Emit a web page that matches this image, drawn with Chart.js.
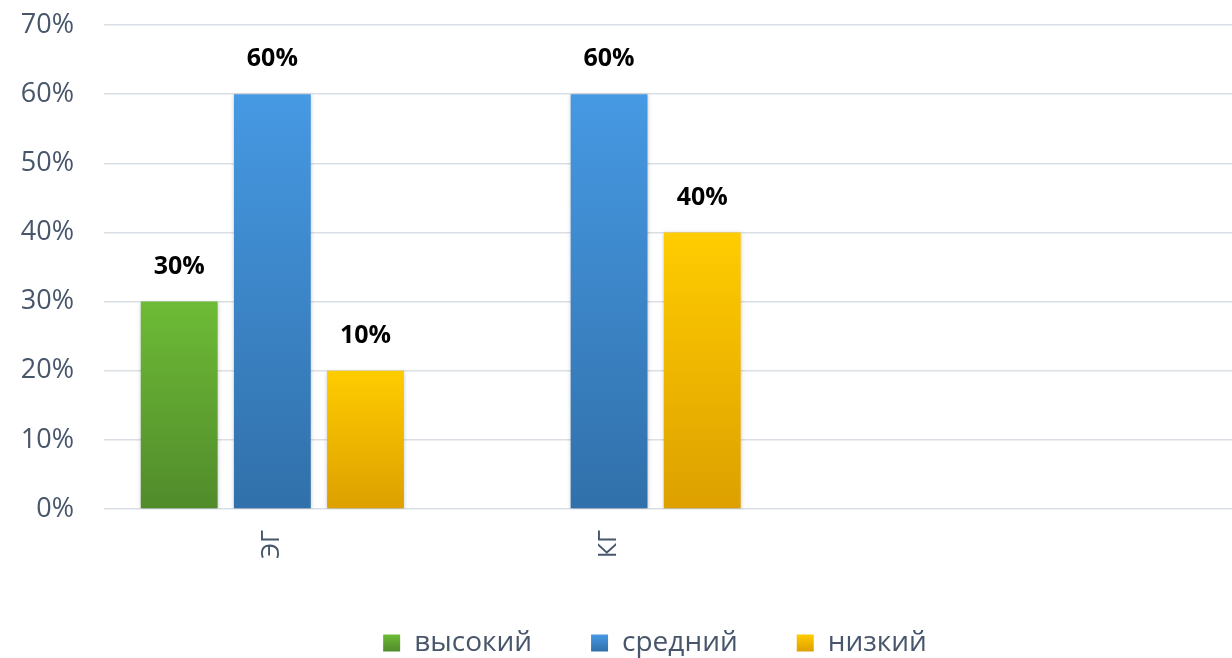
<!DOCTYPE html>
<html>
<head>
<meta charset="utf-8">
<script src="https://cdn.jsdelivr.net/npm/chart.js"></script>
<style>
  html, body { margin: 0; padding: 0; background: #fff; overflow: hidden; }
  #wrap { width: 1232px; height: 658px; position: relative; }
</style>
</head>
<body>
<div id="wrap"><canvas id="chart"></canvas></div>
<script>
// data
const groups = ["ЭГ", "КГ"];
const seriesNames = ["высокий", "средний", "низкий"];
const highValues = [30, null];
const midValues = [60, 60];
const lowValues = [20, 40];
// printed labels (the first yellow bar is labelled 10% although it reaches 20%)
const highLabels = ["30%", ""];
const midLabels = ["60%", "60%"];
const lowLabels = ["10%", "40%"];
const yTicks = [0, 10, 20, 30, 40, 50, 60, 70];

const colorStops = [
    ["#6dbb36", "#518b2b"],
    ["#4699e3", "#3170aa"],
    ["#ffcc00", "#dda000"]
];

const textColor = "#48566b";
const fontName = "'Open Sans', 'DejaVu Sans', sans-serif";
const legendFont = 28;
const legendPad = 59;
const legendBox = 17;
const legendShift = 39;

// vertical gradient for every bar, light at the top
function barFill(stops) {
    return (ctx) => {
        const chart = ctx.chart;
        if (ctx.type !== "data" || !chart.chartArea || ctx.parsed == null) return stops[0];
        const y = chart.scales.y;
        const y0 = y.getPixelForValue(ctx.parsed.y);
        const y1 = y.getPixelForValue(0);
        if (!isFinite(y0) || !isFinite(y1) || y0 === y1) return stops[0];
        const g = chart.ctx.createLinearGradient(0, y0, 0, y1);
        g.addColorStop(0, stops[0]);
        g.addColorStop(1, stops[1]);
        return g;
    };
}

function points(values) {
    return values.map((v, i) => ({ x: i, y: v }));
}

const labelSets = [highLabels, midLabels, lowLabels];

// legend items are spread wide, but the box itself should stay short
const legendTweaks = {
    id: "legendTweaks",
    beforeLayout(chart) {
        const lg = chart.legend;
        if (lg && !lg._fixedHeight) {
            const fit = lg.fit.bind(lg);
            lg.fit = function () {
                fit();
                this.height = legendPad + 29;
            };
            lg._fixedHeight = true;
        }
    },
    afterLayout(chart) {
        // the original legend sits a little right of the canvas centre
        const lg = chart.legend;
        if (lg) {
            lg.left += legendShift;
            lg.right += legendShift;
        }
    },
    beforeDraw(chart) {
        const lg = chart.legend;
        if (!lg || !lg.legendItems) return;
        const top = lg.top + legendPad + (legendFont - legendBox) / 2;
        lg.legendItems.forEach((item, i) => {
            const g = chart.ctx.createLinearGradient(0, top, 0, top + legendBox);
            g.addColorStop(0, colorStops[i][0]);
            g.addColorStop(1, colorStops[i][1]);
            item.fillStyle = g;
            item.lineWidth = 0;
        });
    }
};

const barShadow = {
    id: "barShadow",
    beforeDatasetsDraw(chart) {
        const ctx = chart.ctx;
        ctx.save();
        ctx.shadowColor = "rgba(0,0,0,0.22)";
        ctx.shadowBlur = 4;
        ctx.shadowOffsetX = 0;
        ctx.shadowOffsetY = 1;
    },
    afterDatasetsDraw(chart) {
        chart.ctx.restore();
    }
};

const valueLabels = {
    id: "valueLabels",
    afterDatasetsDraw(chart) {
        const ctx = chart.ctx;
        ctx.save();
        ctx.font = "bold 25px " + fontName;
        ctx.fillStyle = "#000";
        ctx.textAlign = "center";
        ctx.textBaseline = "middle";
        chart.data.datasets.forEach((ds, i) => {
            const meta = chart.getDatasetMeta(i);
            meta.data.forEach((bar, j) => {
                const text = labelSets[i][j];
                if (!text || ds.data[j].y == null) return;
                ctx.fillText(text, bar.x, bar.y - 35);
            });
        });
        ctx.restore();
    }
};

new Chart(document.getElementById("chart"), {
    type: "bar",
    data: {
        datasets: [highValues, midValues, lowValues].map((vals, i) => ({
            label: seriesNames[i],
            data: points(vals),
            backgroundColor: barFill(colorStops[i])
        }))
    },
    options: {
        responsive: true,
        maintainAspectRatio: false,
        animation: false,
        categoryPercentage: 0.83,
        barPercentage: 0.825,
        layout: { padding: { top: 25, right: 0, bottom: 0, left: 0 } },
        scales: {
            x: {
                type: "linear",
                min: -0.5,
                max: 2.85,
                offset: false,
                grid: { display: false, drawTicks: false },
                border: { display: false },
                afterBuildTicks: (scale) => {
                    scale.ticks = groups.map((g, i) => ({ value: i }));
                },
                afterFit: (scale) => { scale.height = 61; },
                ticks: {
                    autoSkip: false,
                    minRotation: 90,
                    maxRotation: 90,
                    padding: 21,
                    color: textColor,
                    font: { family: fontName, size: 25 },
                    callback: (v) => groups[v] || ""
                }
            },
            y: {
                min: 0,
                max: 70,
                afterBuildTicks: (scale) => {
                    scale.ticks = yTicks.map((v) => ({ value: v }));
                },
                afterFit: (scale) => {
                    scale.width = 104;
                    scale.paddingTop = 0;
                    scale.paddingBottom = 0;
                },
                grid: { color: "#dadfe6", lineWidth: 1.5, drawTicks: false },
                border: { display: false },
                ticks: {
                    padding: 30,
                    color: textColor,
                    font: { family: fontName, size: 27 },
                    callback: (v) => v + "%"
                }
            }
        },
        plugins: {
            legend: {
                position: "bottom",
                labels: {
                    boxWidth: legendBox,
                    boxHeight: legendBox,
                    padding: legendPad,
                    color: textColor,
                    font: { family: fontName, size: legendFont }
                }
            },
            tooltip: { enabled: false }
        }
    },
    plugins: [legendTweaks, barShadow, valueLabels]
});
</script>
</body>
</html>
